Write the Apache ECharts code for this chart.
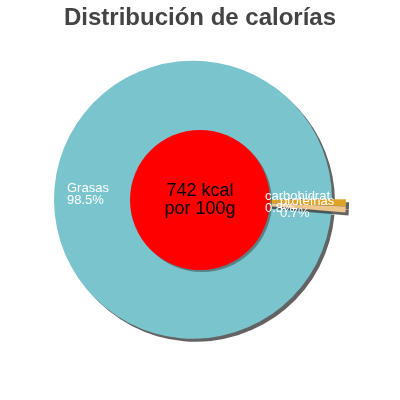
<!DOCTYPE html>
<html>
<head>
<meta charset="utf-8">
<script src="https://cdn.jsdelivr.net/npm/echarts@6/dist/echarts.min.js"></script>
<style>
html,body{margin:0;padding:0;background:#fff;}
#chart{width:400px;height:400px;}
</style>
</head>
<body>
<div id="chart"></div>
<script>
const chartTitle = 'Distribución de calorías';
const categories = ['Grasas', 'carbohidratos', 'proteínas'];
const values = [98.5, 0.8, 0.7];
const sliceColors = ['#79c4cd', '#dca527', '#eec58a'];
const centerLines = ['742 kcal', 'por 100g'];

// label layout (positions only)
const labelAnchors = [[67, 194], [265, 202], [280, 207]];
const labelMaxWidth = [null, 68, null];

const FONT = '"Liberation Sans", Arial, sans-serif';
const chart = echarts.init(document.getElementById('chart'), null, {renderer: 'canvas'});

const pieData = categories.map((name, i) => ({
  name: name,
  value: values[i],
  selected: true,
  itemStyle: {color: sliceColors[i]}
}));

const labelTexts = categories.map((name, i) => {
  const style = {
    text: name + '\n' + values[i] + '%',
    x: labelAnchors[i][0],
    y: labelAnchors[i][1],
    fill: '#fff',
    font: '13px ' + FONT,
    lineHeight: 12,
    align: 'left',
    verticalAlign: 'middle'
  };
  if (labelMaxWidth[i]) {
    style.width = labelMaxWidth[i];
    style.overflow = 'truncate';
    style.ellipsis = '';
  }
  return {type: 'text', z: 100, silent: true, style: style};
});

chart.setOption({
  animation: false,
  backgroundColor: '#fff',
  title: {
    text: chartTitle,
    left: 'center',
    top: 6,
    padding: 0,
    textStyle: {fontFamily: FONT, fontSize: 24, fontWeight: 'bold', color: '#444'}
  },
  graphic: {elements: labelTexts},
  series: [
    {
      type: 'pie',
      center: ['50%', '50%'],
      radius: [0, 139],
      startAngle: -5,
      clockwise: true,
      selectedMode: 'multiple',
      selectedOffset: 7,
      silent: true,
      emphasis: {disabled: true},
      itemStyle: {
        shadowColor: 'rgba(60,60,60,0.8)',
        shadowBlur: 0,
        shadowOffsetX: 3,
        shadowOffsetY: 3
      },
      label: {show: false},
      labelLine: {show: false},
      data: pieData
    },
    {
      type: 'pie',
      center: ['50%', '50%'],
      radius: [0, 70],
      silent: true,
      emphasis: {disabled: true},
      itemStyle: {
        color: '#ff0000',
        shadowColor: 'rgba(60,60,60,0.5)',
        shadowBlur: 0,
        shadowOffsetX: 2,
        shadowOffsetY: 2
      },
      label: {
        show: true,
        position: 'center',
        formatter: () => centerLines.join('\n'),
        color: '#000',
        fontFamily: FONT,
        fontSize: 18,
        lineHeight: 18
      },
      labelLine: {show: false},
      data: [{name: 'energy', value: 1}]
    }
  ]
});
</script>
</body>
</html>
